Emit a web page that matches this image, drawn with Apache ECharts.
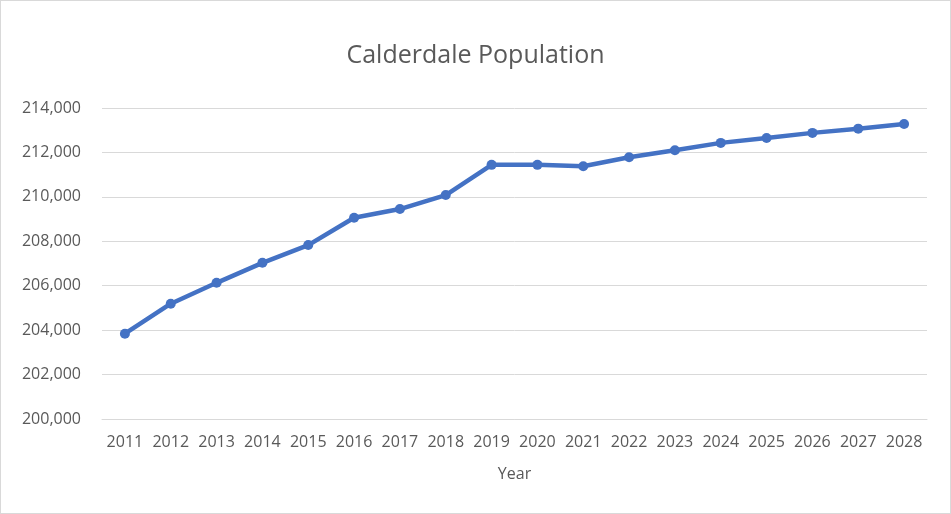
<!DOCTYPE html>
<html>
<head>
<meta charset="utf-8">
<title>Calderdale Population</title>
<script src="https://cdn.jsdelivr.net/npm/echarts@6/dist/echarts.min.js"></script>
<style>
  html, body { margin: 0; padding: 0; background: #fff; }
  #chart { width: 951px; height: 514px; box-sizing: border-box; border: 1px solid #d9d9d9; }
</style>
</head>
<body>
<div id="chart"></div>
<script>
// ---- data
const years = ['2011', '2012', '2013', '2014', '2015', '2016', '2017', '2018', '2019',
    '2020', '2021', '2022', '2023', '2024', '2025', '2026', '2027', '2028'];
const population = [203840, 205190, 206130, 207030, 207830, 209060, 209450, 210080, 211440,
    211440, 211380, 211780, 212100, 212430, 212650, 212880, 213070, 213280];
const yTicks = [200000, 202000, 204000, 206000, 208000, 210000, 212000, 214000];

const textColor = '#595959';
const font = '"Open Sans", "Noto Sans", sans-serif';

var chart = echarts.init(document.getElementById('chart'));
var option = {
    animation: false,
    textStyle: { fontFamily: font },
    title: {
        text: 'Calderdale Population',
        left: 'center',
        top: 37,
        textStyle: { color: textColor, fontSize: 25, fontWeight: 'normal', fontFamily: font }
    },
    grid: {
        left: 101,
        right: 23,
        top: 107,
        bottom: 94
    },
    xAxis: {
        type: 'category',
        data: years,
        boundaryGap: true,
        name: 'Year',
        nameLocation: 'middle',
        nameGap: 47,
        nameTextStyle: { color: textColor, fontSize: 16, fontFamily: font },
        axisLine: { show: true, lineStyle: { color: '#d9d9d9', width: 1 } },
        axisTick: { show: false },
        axisLabel: { color: textColor, fontSize: 16, margin: 15, interval: 0, fontFamily: font }
    },
    yAxis: {
        type: 'value',
        min: yTicks[0],
        max: yTicks[yTicks.length - 1],
        interval: yTicks[1] - yTicks[0],
        axisLine: { show: false },
        axisTick: { show: false },
        splitLine: { lineStyle: { color: '#d9d9d9', width: 1 } },
        axisLabel: {
            color: textColor,
            fontSize: 16,
            margin: 21,
            fontFamily: font,
            formatter: function (v) { return v.toLocaleString('en-US'); }
        }
    },
    series: [{
        name: 'Population',
        type: 'line',
        data: population,
        symbol: 'circle',
        symbolSize: 10,
        lineStyle: { color: '#4472C4', width: 4.5 },
        itemStyle: { color: '#4472C4' }
    }]
};
chart.setOption(option);
</script>
</body>
</html>
